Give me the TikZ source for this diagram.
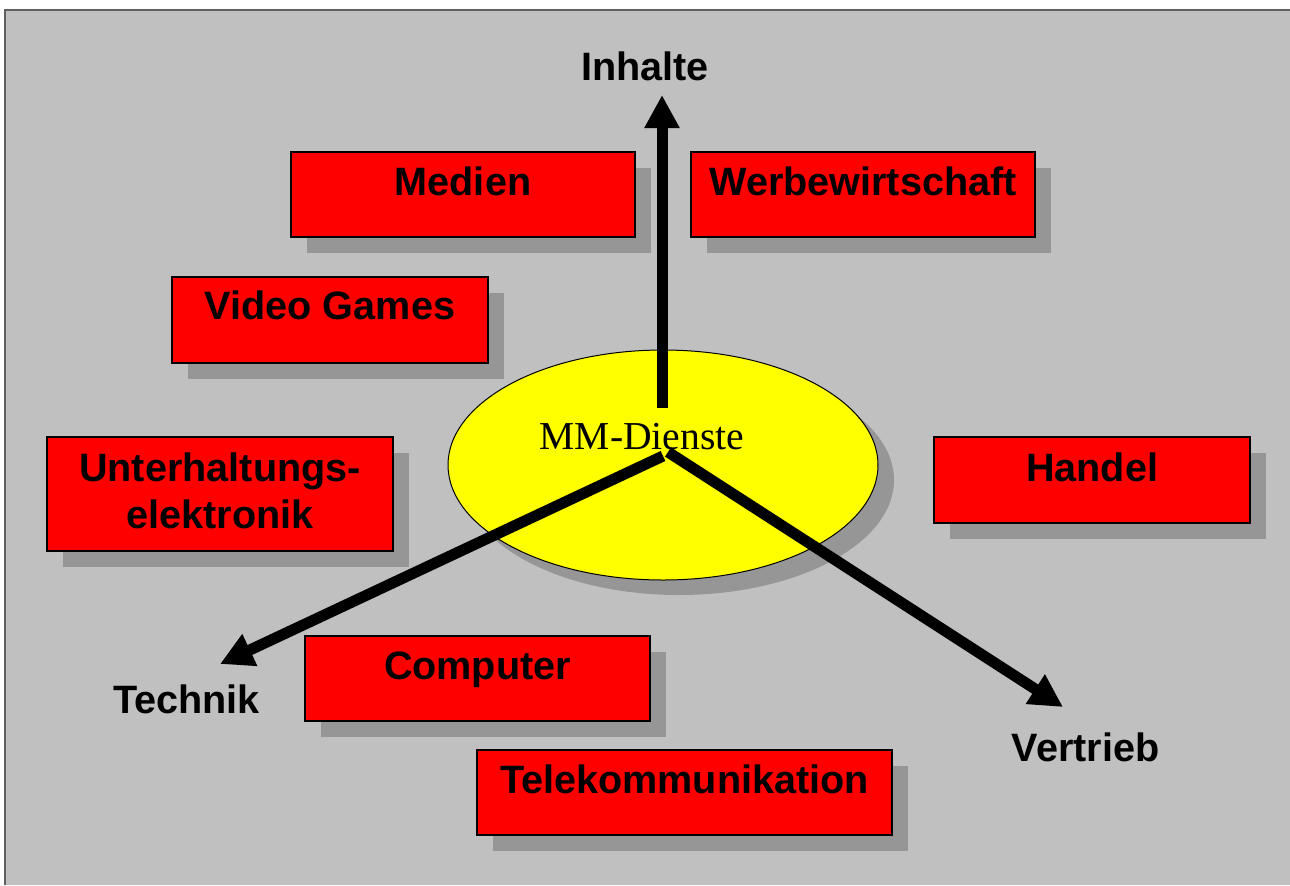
\documentclass[tikz,border=0pt]{standalone}
\usepackage{fontspec}
\setmainfont{Liberation Serif}
\setsansfont{Liberation Sans}
\usetikzlibrary{arrows.meta,shadows,shapes.geometric}
\definecolor{bggray}{HTML}{C0C0C0}
\definecolor{shgray}{HTML}{969696}
\definecolor{framegray}{HTML}{606060}
\definecolor{boxred}{HTML}{FF0000}
\definecolor{ellyellow}{HTML}{FFFF00}
\tikzset{
  sector/.style={draw=black, line width=0.75pt, fill=boxred, inner sep=0pt,
    font=\sffamily\bfseries\fontsize{19.8}{23.5}\selectfont, text height=21.5pt,
    drop shadow={shadow xshift=8pt, shadow yshift=-8pt, fill=shgray, opacity=1}},
  axislabel/.style={font=\sffamily\bfseries\fontsize{19.8}{23.5}\selectfont, inner sep=0pt, anchor=base},
  axisarrow/.style={line width=5.5pt, -{Triangle[length=16.5pt,width=16.5pt]}},
}
\begin{document}
\begin{tikzpicture}[x=0.5pt,y=-0.5pt]
\useasboundingbox (0,0) rectangle (1290,885);
\fill[bggray] (5,10) rectangle (1290,885);
\draw[framegray, line width=1pt] (5,885) -- (5,10) -- (1290,10);

% boxes
\node[sector, minimum width=172pt, minimum height=42.5pt, text depth=21pt] (medien) at (463,194.5) {Medien};
\node[sector, minimum width=172pt, minimum height=42.5pt, text depth=21pt] (werbung) at (863,194.5) {Werbewirtschaft};
\node[sector, minimum width=158pt, minimum height=43pt, text depth=21.5pt, text height=21pt] (games) at (330,320) {Video Games};
\node[sector, minimum width=173pt, minimum height=57pt, text height=22pt, text depth=35pt] (ue) at (220,494)
  {\begin{tabular}[t]{@{}c@{}}Unterhaltungs-\\elektronik\end{tabular}};
\node[sector, minimum width=158pt, minimum height=43pt, text height=22pt, text depth=21pt] (handel) at (1092,480) {Handel};
\node[sector, minimum width=172.5pt, minimum height=42.5pt, text depth=21pt] (computer) at (477.5,678.5) {Computer};
\node[sector, minimum width=207.5pt, minimum height=42.5pt, text depth=21pt] (telekom) at (684.5,792.5) {Telekommunikation};

% central ellipse
\node[ellipse, draw=black, line width=0.5pt, fill=ellyellow, inner sep=0pt,
  minimum width=215pt, minimum height=115pt,
  drop shadow={shadow xshift=8pt, shadow yshift=-7.5pt, fill=shgray, opacity=1}] (mm) at (663,465) {};
\node[font=\fontsize{19.8}{23.5}\selectfont, inner sep=0pt, anchor=base] (mmtext) at (642,449) {MM-Dienste};

% axes
\coordinate (sI) at (662,408);
\coordinate (tI) at (662,95);
\coordinate (sT) at (663,456);
\coordinate (tT) at (220,664);
\coordinate (sV) at (668,452);
\coordinate (tV) at (1063,707);
\draw[axisarrow] (sI) -- (tI);
\draw[axisarrow] (sT) -- (tT);
\draw[axisarrow] (sV) -- (tV);

% axis labels
\node[axislabel] (inhalte) at (645,80) {Inhalte};
\node[axislabel] (technik) at (186.5,713) {Technik};
\node[axislabel] (vertrieb) at (1085.5,761) {Vertrieb};
\end{tikzpicture}
\end{document}
